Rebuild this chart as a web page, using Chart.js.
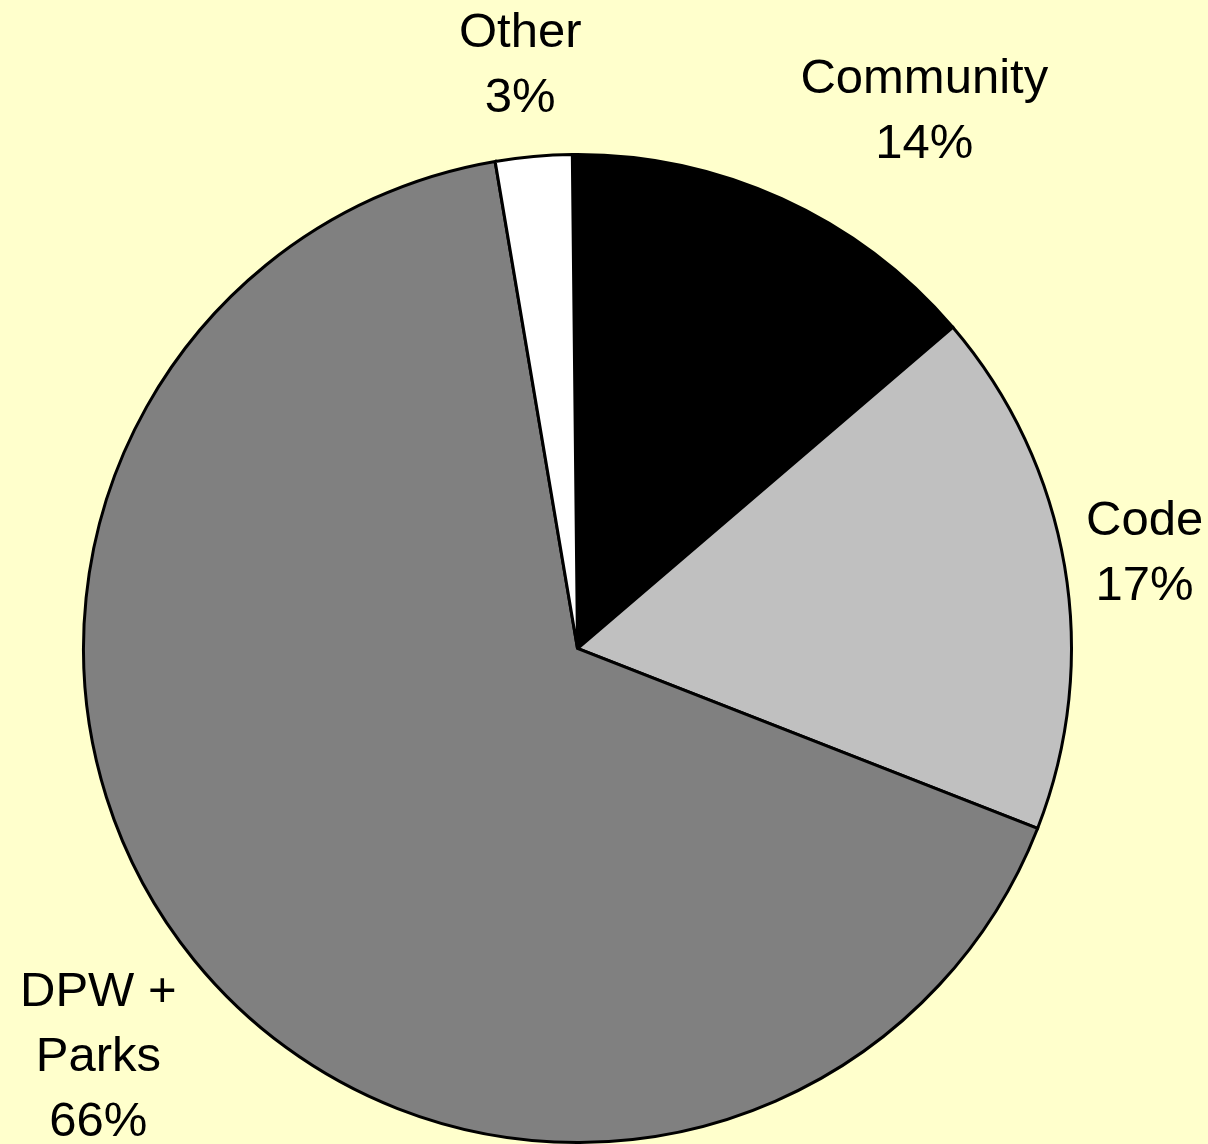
<!DOCTYPE html>
<html>
<head>
<meta charset="utf-8">
<script src="https://cdn.jsdelivr.net/npm/chart.js@4.4.1/dist/chart.umd.min.js"></script>
<style>
  html, body { margin: 0; padding: 0; background: #FFFFCC; }
  #wrap { width: 1208px; height: 1144px; }
</style>
</head>
<body>
<div id="wrap"><canvas id="myChart" width="1208" height="1144"></canvas></div>
<script>
// slices go clockwise from (just left of) 12 o'clock
const categories = ['Community', 'Code', 'DPW + Parks', 'Other'];
const shares = [13.9, 17.2, 66.4, 2.5];
const percentLabels = ['14%', '17%', '66%', '3%'];
const sliceColors = ['#000000', '#C0C0C0', '#808080', '#FFFFFF'];

// where each label sits, in units of the pie radius from its centre (x, mean baseline)
const labelSpots = [[0.702, -1.058], [1.148, -0.163], [-0.970, 0.856], [-0.116, -1.151]];
const labelLines = [['Community'], ['Code'], ['DPW +', 'Parks'], ['Other']];

const pieLabels = {
    id: 'pieLabels',
    afterDraw(chart) {
        const ctx = chart.ctx;
        const arcs = chart.getDatasetMeta(0).data;
        ctx.save();
        ctx.fillStyle = '#000';
        ctx.font = '49px "Liberation Sans", Arial, sans-serif';
        ctx.textAlign = 'center';
        ctx.textBaseline = 'alphabetic';
        arcs.forEach((arc, i) => {
            const r = arc.outerRadius;
            const lines = labelLines[i].concat([percentLabels[i]]);
            const lh = 65;
            const cx = arc.x + labelSpots[i][0] * r;
            const cy = arc.y + labelSpots[i][1] * r;
            let y = cy - (lines.length - 1) * lh / 2;
            lines.forEach(t => {
                ctx.fillText(t, cx, y);
                y += lh;
            });
        });
        ctx.restore();
    }
};

const ctx = document.querySelector('#myChart');
const myChart = new Chart(ctx, {
    type: 'pie',
    data: {
        labels: categories,
        datasets: [{
            data: shares,
            backgroundColor: sliceColors,
            borderColor: '#000000',
            borderWidth: 3,
            borderJoinStyle: 'miter'
        }]
    },
    options: {
        responsive: false,
        animation: false,
        rotation: -0.6,
        layout: { padding: { left: 82, right: 135, top: 153, bottom: 0 } },
        plugins: {
            legend: { display: false },
            tooltip: { enabled: false }
        }
    },
    plugins: [pieLabels]
});
</script>
</body>
</html>
